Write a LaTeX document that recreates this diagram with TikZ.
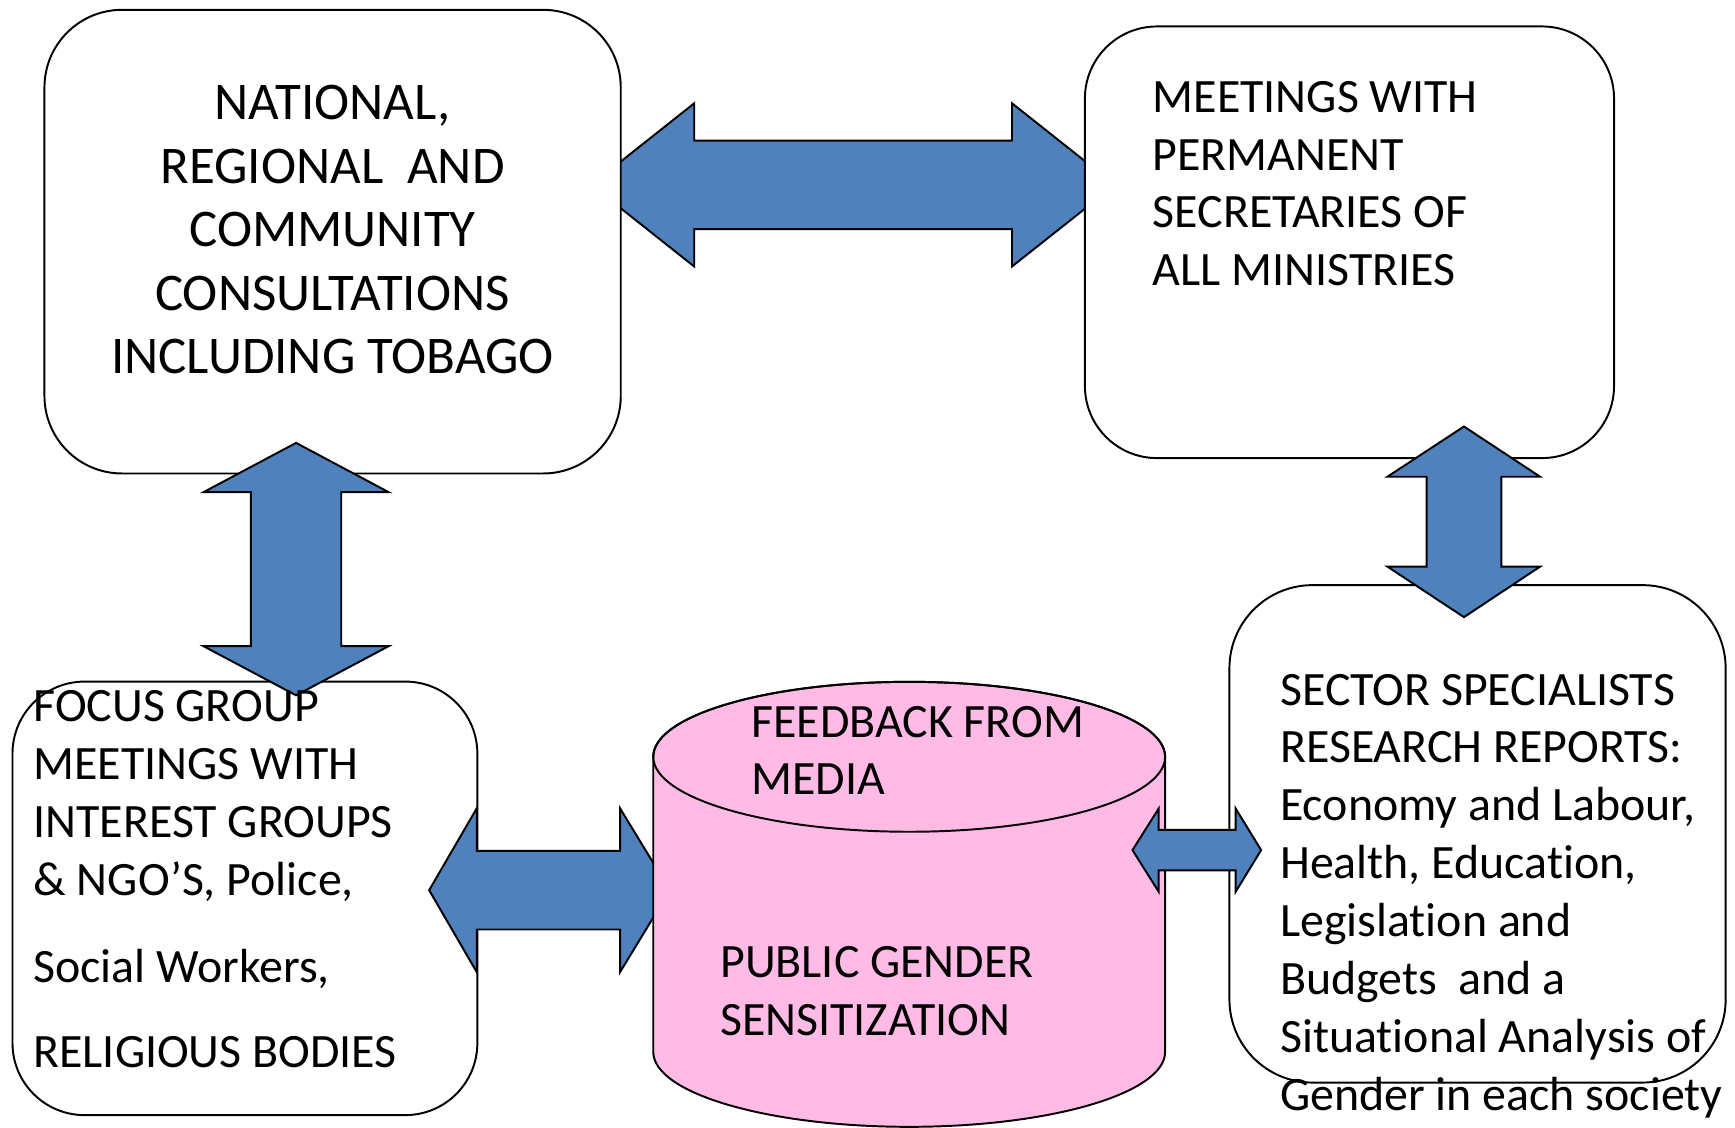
\documentclass[tikz,border=0pt]{standalone}
\usepackage{fontspec}
\setmainfont{Carlito}[Ligatures=NoCommon]
\usetikzlibrary{positioning}

\definecolor{arrowblue}{HTML}{4F81BD}
\definecolor{cylpink}{RGB}{255,187,229}

\tikzset{
  roundbox/.style={draw, fill=white, line width=0.5pt, rectangle, inner sep=0pt},
  blockarrow/.style={draw=black, fill=arrowblue, line width=0.5pt, line join=miter},
  boxtext/.style={inner sep=0pt, anchor=north west, align=left},
}

\begin{document}
\begin{tikzpicture}[x=0.01cm, y=-0.01cm]
    \useasboundingbox (0,0) rectangle (1567,1018);

    % Arrow between the two upper boxes (lies under them)
    \filldraw[blockarrow] (534,167) -- (627,93.3) -- (627,127) -- (914,127) -- (914,93.3)
        -- (1007,167) -- (914,240.7) -- (914,207) -- (627,207) -- (627,240.7) -- cycle;

    % Boxes
    \node[roundbox, rounded corners=0.7cm, minimum width=5.202cm, minimum height=4.185cm] (national) at (300.4,218.25) {};
    \node[roundbox, rounded corners=0.65cm, minimum width=4.776cm, minimum height=3.896cm] (secretaries) at (1218.8,218.8) {};
    \node[roundbox, rounded corners=0.65cm, minimum width=4.196cm, minimum height=3.913cm] (focus) at (221.2,811.35) {};
    \node[roundbox, rounded corners=0.75cm, minimum width=4.479cm, minimum height=4.49cm] (sector) at (1334.45,753.1) {};

    % Vertical arrows
    \filldraw[blockarrow] (267.4,400) -- (351,444.5) -- (308.2,444.5) -- (308.2,583.6) -- (351,583.6)
        -- (267.4,628) -- (183.8,583.6) -- (226.6,583.6) -- (226.6,444.5) -- (183.8,444.5) -- cycle;
    \filldraw[blockarrow] (1322.2,385.2) -- (1391,430.6) -- (1356,430.6) -- (1356,511.7) -- (1391,511.7)
        -- (1322.2,557.4) -- (1253,511.7) -- (1288.5,511.7) -- (1288.5,430.6) -- (1253,430.6) -- cycle;

    % Arrow from focus groups to the media
    \filldraw[blockarrow] (387.6,804) -- (430.6,730) -- (430.6,768.5) -- (560,768.5) -- (560,730)
        -- (605,804) -- (560,878) -- (560,839.5) -- (430.6,839.5) -- (430.6,878) -- cycle;

    % Media cylinder
    \filldraw[fill=cylpink, line width=0.5pt] (590,683.5) -- (590,950)
        arc[start angle=180, end angle=0, x radius=231.15, y radius=67.7] -- (1052.3,683.5)
        arc[start angle=0, end angle=-180, x radius=231.15, y radius=67.7] -- cycle;
    \draw[line width=0.5pt] (821.15,683.5) ellipse[x radius=231.15, y radius=67.7];
    \coordinate (media) at (821.15,816);

    % Small arrow to the sector specialists
    \filldraw[blockarrow] (1022.8,767.8) -- (1046.5,730.2) -- (1046.5,749.5) -- (1116,749.5) -- (1116,730.2)
        -- (1139,767.8) -- (1116,805.4) -- (1116,786) -- (1046.5,786) -- (1046.5,805.4) -- cycle;

    % Texts
    \node[inner sep=0pt, anchor=north, align=center, font=\fontsize{13.6}{16.33}\selectfont] (nationaltxt) at (300.3,76.2)
        {NATIONAL,\\REGIONAL~ AND\\COMMUNITY\\CONSULTATIONS\\INCLUDING TOBAGO};
    \node[boxtext, font=\fontsize{12.3}{14.8}\selectfont] (secretariestxt) at (1040.5,72.8)
        {MEETINGS WITH\\PERMANENT\\SECRETARIES OF\\ALL MINISTRIES};
    \node[boxtext, font=\fontsize{12.3}{14.88}\selectfont] (focustxt) at (29.5,622.8)
        {FOCUS GROUP\\MEETINGS WITH\\INTEREST GROUPS\\\& NGO’S, Police,\\[7.4pt]Social Workers,\\[7pt]RELIGIOUS BODIES};
    \node[boxtext, font=\fontsize{12.3}{14.75}\selectfont] (feedbacktxt) at (678,637)
        {FEEDBACK FROM\\MEDIA};
    \node[boxtext, font=\fontsize{12.3}{14.8}\selectfont] (publictxt) at (649.8,854.5)
        {PUBLIC GENDER\\SENSITIZATION};
    \node[boxtext, font=\fontsize{12.3}{14.88}\selectfont] (sectortxt) at (1155.5,608)
        {SECTOR SPECIALISTS\\RESEARCH REPORTS:\\Economy and Labour,\\Health, Education,\\Legislation and\\Budgets~ and a\\Situational Analysis of\\Gender in each society};
\end{tikzpicture}
\end{document}
